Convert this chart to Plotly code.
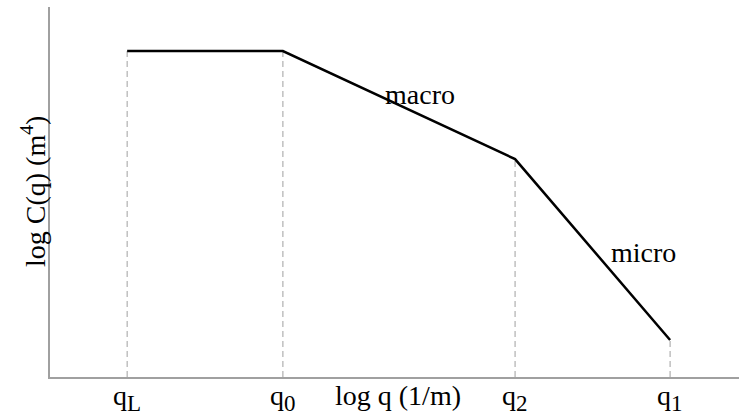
import plotly.graph_objects as go

# data (arbitrary log units)
q_subs = ["L", "0", "2", "1"]
q_vals = [1.12, 3.38, 6.75, 9.0]
c_vals = [8.81, 8.81, 5.89, 1.0]
region_labels = ["macro", "micro"]
region_x = [5.37, 8.61]
region_y = [7.64, 3.36]

FONT = "Liberation Serif, Times New Roman, serif"
FS = 28

fig = go.Figure()
for xv, yv in zip(q_vals, c_vals):
    fig.add_trace(go.Scatter(x=[xv, xv], y=[0, yv], mode="lines",
                             line=dict(color="#b0b0b0", width=1.2, dash="6px,4px"),
                             showlegend=False, hoverinfo="skip"))
fig.add_trace(go.Scatter(x=q_vals, y=c_vals, mode="lines",
                         line=dict(color="black", width=2.5),
                         showlegend=False))

ann = []
for sub, xv in zip(q_subs, q_vals):
    ann.append(dict(x=xv, y=0, xref="x", yref="paper",
                    text="q<sub><span style='font-size:23px'>%s</span></sub>" % sub,
                    showarrow=False, yanchor="top", xanchor="center", yshift=-1,
                    font=dict(family=FONT, size=FS, color="black")))
for t, xv, yv in zip(region_labels, region_x, region_y):
    ann.append(dict(x=xv, y=yv, xref="x", yref="y", text=t, showarrow=False,
                    font=dict(family=FONT, size=FS, color="black")))
ann.append(dict(x=5.05, y=0, xref="x", yref="paper", text="log q (1/m)", showarrow=False,
                yanchor="top", xanchor="center", yshift=-1,
                font=dict(family=FONT, size=FS, color="black")))
ann.append(dict(x=0, y=0.5, xref="paper", yref="paper", text="log C(q) (m<sup>4</sup>)",
                showarrow=False, textangle=-90, xanchor="center", yanchor="middle",
                xshift=-17,
                font=dict(family=FONT, size=FS, color="black")))

fig.update_layout(
    width=739, height=415,
    margin=dict(l=50, r=0, t=7, b=38),
    paper_bgcolor="white", plot_bgcolor="white",
    annotations=ann,
    xaxis=dict(range=[0, 10], showgrid=False, zeroline=False, showticklabels=False,
               ticks="", showline=True, linecolor="#a0a0a0", linewidth=1.5, fixedrange=True),
    yaxis=dict(range=[0, 10], showgrid=False, zeroline=False, showticklabels=False,
               ticks="", showline=True, linecolor="#a0a0a0", linewidth=1.5, fixedrange=True),
)
fig.write_html("out.html", config={"displayModeBar": False})
